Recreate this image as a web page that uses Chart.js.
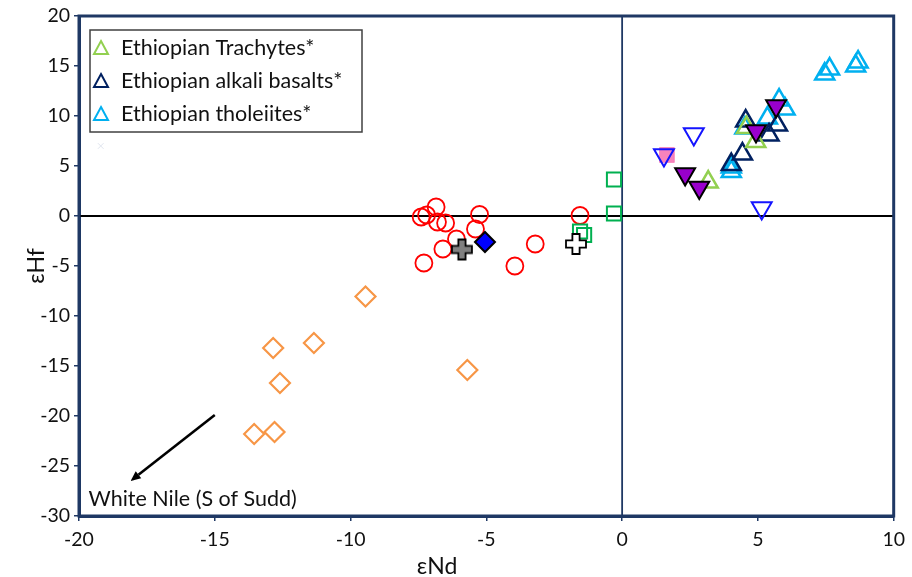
<!DOCTYPE html>
<html><head><meta charset="utf-8">
<script src="https://cdn.jsdelivr.net/npm/chart.js@4/dist/chart.umd.min.js"></script>
<style>html,body{margin:0;padding:0;background:#fff}#wrap{width:912px;height:577px;position:relative}</style>
</head><body><div id="wrap"><canvas id="c" width="912" height="577"></canvas></div>
<script>
// ---- data ----
const xTickValues = [-20, -15, -10, -5, 0, 5, 10];
const yTickValues = [-30, -25, -20, -15, -10, -5, 0, 5, 10, 15, 20];

const circlesX = [-7.4, -7.2, -6.85, -6.8, -6.5, -5.25, -5.4, -6.1, -6.6, -7.3, -3.95, -3.2, -1.55];
const circlesY = [-0.1, 0.1, 0.9, -0.6, -0.7, 0.15, -1.3, -2.3, -3.3, -4.7, -5.0, -2.8, 0.05];

const diamondsX = [-9.45, -12.85, -11.35, -12.6, -5.7, -13.55, -12.8];
const diamondsY = [-8.05, -13.2, -12.7, -16.7, -15.4, -21.8, -21.6];

const squaresX = [-0.3, -0.3, -1.55, -1.4];
const squaresY = [3.65, 0.25, -1.55, -1.9];

const grayCrossX = [-5.9];  const grayCrossY = [-3.35];
const whiteCrossX = [-1.7]; const whiteCrossY = [-2.8];
const blueDiamondX = [-5.05]; const blueDiamondY = [-2.6];
const pinkSquareX = [1.65]; const pinkSquareY = [6.1];
const faintX = [-19.2]; const faintY = [7.0];

const openDownX = [1.54, 2.64, 5.14];
const openDownY = [6.1, 8.2, 0.8];

const purpleDownX = [2.32, 2.84, 4.93, 5.67];
const purpleDownY = [4.2, 2.85, 8.5, 11.0];

const trachytesX = [3.17, 4.92, 4.58];
const trachytesY = [3.4, 7.45, 8.85];

const alkaliX = [4.55, 4.43, 4.02, 5.41, 5.72];
const alkaliY = [9.5, 6.2, 5.15, 8.1, 9.1];

const tholeiitesX = [7.46, 7.64, 8.6, 8.69, 5.78, 6.0, 5.35, 4.52, 4.02, 4.02];
const tholeiitesY = [14.2, 14.7, 15.0, 15.4, 11.6, 10.7, 9.8, 8.8, 4.9, 4.45];

const legendNames = ['Ethiopian Trachytes*', 'Ethiopian alkali basalts*', 'Ethiopian tholeiites*'];
const annotationText = 'White Nile (S of Sudd)';
const arrowFrom = [-15.0, -19.9];
const arrowTo = [-18.1, -26.5];
const annotationPos = [-19.65, -28.3];

// ---- helpers ----
const pts = (xs, ys) => xs.map((x, i) => ({x: x, y: ys[i]}));
function plusCanvas(fill) {
  const c = document.createElement('canvas'); c.width = 24; c.height = 24;
  const g = c.getContext('2d'); const a = 3.6, b = 10, cx = 12, cy = 12;
  g.beginPath();
  g.moveTo(cx-a,cy-b); g.lineTo(cx+a,cy-b); g.lineTo(cx+a,cy-a); g.lineTo(cx+b,cy-a);
  g.lineTo(cx+b,cy+a); g.lineTo(cx+a,cy+a); g.lineTo(cx+a,cy+b); g.lineTo(cx-a,cy+b);
  g.lineTo(cx-a,cy+a); g.lineTo(cx-b,cy+a); g.lineTo(cx-b,cy-a); g.lineTo(cx-a,cy-a);
  g.closePath(); g.fillStyle = fill; g.fill(); g.lineWidth = 1.8; g.strokeStyle = '#000'; g.stroke();
  return c;
}
const NAVY = '#1F3864';
const FONT = 'Lato, "Open Sans", sans-serif';

const ds = (label, data, o) => Object.assign({label, data, showLine: false, pointHoverRadius: 0}, o);

const datasets = [
  ds('purple', pts(purpleDownX, purpleDownY), {pointStyle:'triangle', rotation:180, pointRadius:11.5, backgroundColor:'#9900CC', borderColor:'#000', borderWidth:2}),
  ds('blueDiamond', pts(blueDiamondX, blueDiamondY), {pointStyle:'rectRot', pointRadius:10, backgroundColor:'#0000FF', borderColor:'#000', borderWidth:2}),
  ds('grayCross', pts(grayCrossX, grayCrossY), {pointStyle: plusCanvas('#808080')}),
  ds('whiteCross', pts(whiteCrossX, whiteCrossY), {pointStyle: plusCanvas('#ffffff')}),
  ds('openDown', pts(openDownX, openDownY), {pointStyle:'triangle', rotation:180, pointRadius:11.5, backgroundColor:'rgba(0,0,0,0)', borderColor:'#1414FF', borderWidth:2}),
  ds('pinkSquare', pts(pinkSquareX, pinkSquareY), {pointStyle:'rect', pointRadius:10.5, backgroundColor:'rgba(245,90,165,0.75)', borderColor:'rgba(245,90,165,0.5)', borderWidth:1}),
  ds(legendNames[0], pts(trachytesX, trachytesY), {inLegend:true, pointStyle:'triangle', pointRadius:11, backgroundColor:'rgba(0,0,0,0)', borderColor:'#92D050', borderWidth:2.5}),
  ds(legendNames[1], pts(alkaliX, alkaliY), {inLegend:true, pointStyle:'triangle', pointRadius:11, backgroundColor:'rgba(0,0,0,0)', borderColor:'#002060', borderWidth:2.5}),
  ds(legendNames[2], pts(tholeiitesX, tholeiitesY), {inLegend:true, pointStyle:'triangle', pointRadius:11, backgroundColor:'rgba(0,0,0,0)', borderColor:'#00B0F0', borderWidth:2.5}),
  ds('squares', pts(squaresX, squaresY), {pointStyle:'rect', pointRadius:10, backgroundColor:'rgba(0,0,0,0)', borderColor:'#00B050', borderWidth:2}),
  ds('circles', pts(circlesX, circlesY), {pointStyle:'circle', pointRadius:8.5, backgroundColor:'rgba(0,0,0,0)', borderColor:'#FF0000', borderWidth:1.8}),
  ds('diamonds', pts(diamondsX, diamondsY), {pointStyle:'rectRot', pointRadius:10, backgroundColor:'rgba(0,0,0,0)', borderColor:'#F79646', borderWidth:2.2}),
  ds('faint', pts(faintX, faintY), {pointStyle:'crossRot', pointRadius:4, borderColor:'#dfe4ee', borderWidth:1})
];

const decor = {
  id: 'decor',
  beforeDatasetsDraw(chart) {
    const {ctx, chartArea: a, scales: {x, y}} = chart;
    ctx.save();
    const x0 = x.getPixelForValue(0), y0 = y.getPixelForValue(0);
    ctx.strokeStyle = NAVY; ctx.lineWidth = 1.8;
    ctx.beginPath(); ctx.moveTo(x0, a.top); ctx.lineTo(x0, a.bottom); ctx.stroke();
    ctx.strokeStyle = '#000'; ctx.lineWidth = 2;
    ctx.beginPath(); ctx.moveTo(a.left, y0); ctx.lineTo(a.right, y0); ctx.stroke();
    // arrow
    const sx = x.getPixelForValue(arrowFrom[0]), sy = y.getPixelForValue(arrowFrom[1]);
    const ex = x.getPixelForValue(arrowTo[0]), ey = y.getPixelForValue(arrowTo[1]);
    const ang = Math.atan2(ey - sy, ex - sx);
    const hl = 10, hw = 4.5;
    const bx = ex - Math.cos(ang) * hl, by = ey - Math.sin(ang) * hl;
    ctx.strokeStyle = '#000'; ctx.fillStyle = '#000'; ctx.lineWidth = 2.6;
    ctx.beginPath(); ctx.moveTo(sx, sy); ctx.lineTo(bx, by); ctx.stroke();
    ctx.beginPath(); ctx.moveTo(ex, ey);
    ctx.lineTo(bx + Math.sin(ang) * hw, by - Math.cos(ang) * hw);
    ctx.lineTo(bx - Math.sin(ang) * hw, by + Math.cos(ang) * hw);
    ctx.closePath(); ctx.fill();
    // annotation
    ctx.font = '21.5px ' + FONT; ctx.textBaseline = 'middle'; ctx.textAlign = 'left'; ctx.fillStyle = '#111';
    ctx.fillText(annotationText, x.getPixelForValue(annotationPos[0]), y.getPixelForValue(annotationPos[1]));
    ctx.restore();
  },
  afterDraw(chart) {
    const {ctx, chartArea: a} = chart;
    ctx.save();
    // frame
    ctx.strokeStyle = NAVY; ctx.lineWidth = 3;
    ctx.strokeRect(a.left, a.top, a.right - a.left, a.bottom - a.top);
    // axis titles
    ctx.fillStyle = '#111'; ctx.font = '23px ' + FONT; ctx.textAlign = 'center'; ctx.textBaseline = 'middle';
    ctx.fillText('εNd', a.left + 358, 567);
    ctx.save(); ctx.translate(37, (a.top + a.bottom) / 2); ctx.rotate(-Math.PI / 2);
    ctx.fillText('εHf', 0, 0); ctx.restore();
    // legend
    const items = chart.data.datasets.filter(d => d.inLegend);
    const lx = a.left + 11, ly = a.top + 14, lw = 272, lh = 102;
    ctx.fillStyle = '#fff'; ctx.fillRect(lx, ly, lw, lh);
    ctx.strokeStyle = '#404040'; ctx.lineWidth = 1.5; ctx.strokeRect(lx, ly, lw, lh);
    items.forEach((d, i) => {
      const cy = ly + 18 + i * 33, cx = lx + 11;
      ctx.strokeStyle = d.borderColor; ctx.lineWidth = 2;
      ctx.beginPath(); ctx.moveTo(cx, cy - 7); ctx.lineTo(cx + 7, cy + 6); ctx.lineTo(cx - 7, cy + 6); ctx.closePath(); ctx.stroke();
      ctx.fillStyle = '#111'; ctx.font = '21.5px ' + FONT; ctx.textAlign = 'left'; ctx.textBaseline = 'middle';
      ctx.fillText(d.label, lx + 31, cy);
    });
    ctx.restore();
  }
};

new Chart(document.getElementById('c'), {
  type: 'scatter',
  data: {datasets},
  options: {
    responsive: false, animation: false, devicePixelRatio: 1,
    layout: {padding: {left: 0, right: 17, top: 16, bottom: 0}},
    plugins: {legend: {display: false}, tooltip: {enabled: false}},
    events: [],
    scales: {
      x: {
        type: 'linear', min: -20, max: 10,
        afterBuildTicks: s => { s.ticks = xTickValues.map(v => ({value: v})); },
        afterFit: s => { s.height = 61; },
        ticks: {font: {size: 19.5, family: FONT}, color: '#111', padding: 7},
        grid: {drawOnChartArea: false, drawTicks: true, tickLength: 5, color: NAVY, lineWidth: 1.5},
        border: {display: true, color: NAVY, width: 3}
      },
      y: {
        type: 'linear', min: -30, max: 20,
        afterBuildTicks: s => { s.ticks = yTickValues.map(v => ({value: v})); },
        afterFit: s => { s.width = 79; },
        ticks: {font: {size: 19.5, family: FONT}, color: '#111', padding: 4},
        grid: {drawOnChartArea: false, drawTicks: true, tickLength: 5, color: NAVY, lineWidth: 1.5},
        border: {display: true, color: NAVY, width: 3}
      }
    }
  },
  plugins: [decor]
});
</script></body></html>
